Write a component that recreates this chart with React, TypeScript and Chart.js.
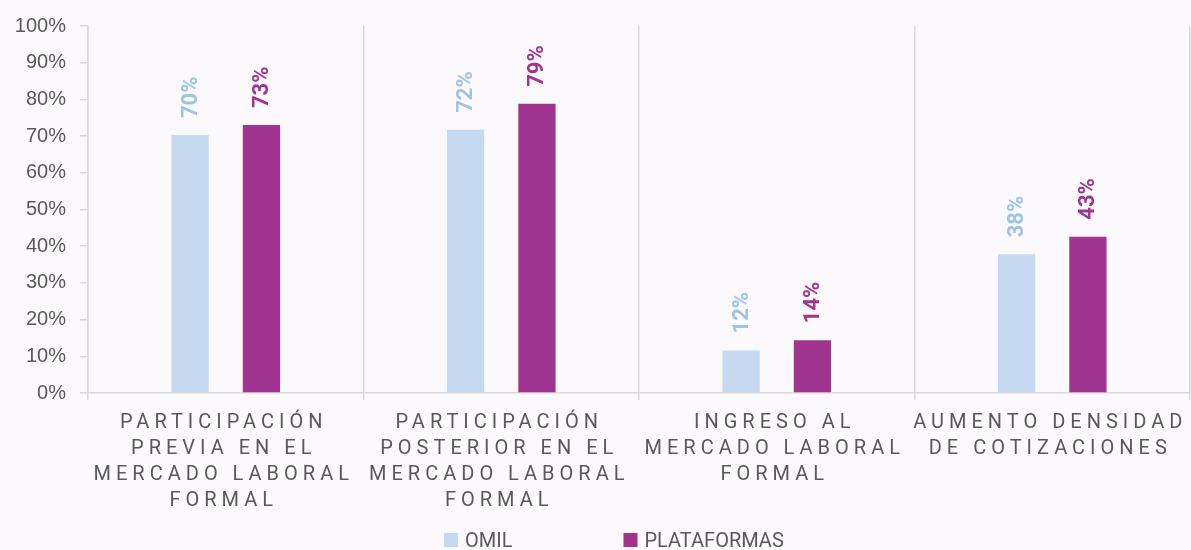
import React, { useEffect, useRef } from 'react';
import { Chart, registerables } from 'chart.js';

Chart.register(...registerables);

// ---- Data ----
const categories: string[][] = [
  ['PARTICIPACIÓN', 'PREVIA EN EL', 'MERCADO LABORAL', 'FORMAL'],
  ['PARTICIPACIÓN', 'POSTERIOR EN EL', 'MERCADO LABORAL', 'FORMAL'],
  ['INGRESO AL', 'MERCADO LABORAL', 'FORMAL'],
  ['AUMENTO DENSIDAD', 'DE COTIZACIONES'],
];
const seriesNames = ['OMIL', 'PLATAFORMAS'];
const omilValues = [70.3, 71.7, 11.6, 37.8];
const plataformasValues = [73.0, 78.8, 14.4, 42.6];
const yMin = 0;
const yMax = 100;
const yStep = 10;

// ---- Styles ----
const BG = '#FBF9FC';
const TEXT = '#595959';
const GRID = '#D9D9D9';
const barColors = ['#C5D9F1', '#A0348F'];
const labelColors = ['#9DC3E6', '#A0348F'];
const FONT = 'Roboto, "Liberation Sans", sans-serif';
const TICK_FONT = '"Liberation Sans", Arial, sans-serif';

const customPlugin = {
  id: 'customDraw',
  afterDatasetsDraw(chart: any) {
    const ctx = chart.ctx as CanvasRenderingContext2D;
    chart.data.datasets.forEach((ds: any, di: number) => {
      const meta = chart.getDatasetMeta(di);
      meta.data.forEach((bar: any, i: number) => {
        const v = ds.data[i] as number;
        ctx.save();
        ctx.translate(bar.x, bar.y - 17);
        ctx.rotate(-Math.PI / 2);
        ctx.font = `bold 22px ${FONT}`;
        ctx.fillStyle = labelColors[di];
        ctx.textAlign = 'left';
        ctx.textBaseline = 'middle';
        ctx.fillText(`${Math.round(v)}%`, 0, 1);
        ctx.restore();
      });
    });
  },
  afterDraw(chart: any) {
    const ctx = chart.ctx as CanvasRenderingContext2D;
    const xScale = chart.scales.x;
    // Category labels with letter spacing
    ctx.save();
    ctx.font = `20px ${FONT}`;
    (ctx as any).letterSpacing = '5px';
    ctx.fillStyle = TEXT;
    ctx.textAlign = 'center';
    ctx.textBaseline = 'alphabetic';
    const firstBaseline = chart.chartArea.bottom + 35;
    const pitch = 26;
    (chart.data.labels as string[][]).forEach((lines, i) => {
      const cx = xScale.getPixelForValue(i) - 2;
      lines.forEach((line, li) => {
        ctx.fillText(line, cx, firstBaseline + li * pitch);
      });
    });
    ctx.restore();

    // Legend
    ctx.save();
    ctx.font = `20px ${FONT}`;
    ctx.textBaseline = 'alphabetic';
    ctx.textAlign = 'left';
    const box = 14;
    const baseline = chart.height - 3;
    const center = chart.width / 2;
    const starts = [center - 151.5, center + 28];
    chart.data.datasets.forEach((ds: any, di: number) => {
      const x0 = starts[di];
      ctx.fillStyle = barColors[di];
      ctx.fillRect(x0, baseline - box, box, box);
      ctx.fillStyle = TEXT;
      ctx.fillText(ds.label, x0 + box + 7, baseline);
    });
    ctx.restore();
  },
};

export default function App() {
  const canvasRef = useRef<HTMLCanvasElement | null>(null);

  useEffect(() => {
    const canvas = canvasRef.current;
    if (!canvas) return;
    const chart = new Chart(canvas, {
      type: 'bar',
      data: {
        labels: categories as any,
        datasets: [
          {
            label: seriesNames[0],
            data: omilValues,
            backgroundColor: barColors[0],
            barPercentage: 0.522,
            categoryPercentage: 0.518,
          },
          {
            label: seriesNames[1],
            data: plataformasValues,
            backgroundColor: barColors[1],
            barPercentage: 0.522,
            categoryPercentage: 0.518,
          },
        ],
      },
      options: {
        animation: false,
        responsive: true,
        maintainAspectRatio: false,
        layout: { padding: { top: 22, right: 1, bottom: 0, left: 0 } },
        plugins: {
          legend: { display: false },
          tooltip: { enabled: false },
        },
        scales: {
          x: {
            offset: true,
            grid: {
              display: true,
              offset: true,
              color: GRID,
              lineWidth: 1.5,
              tickLength: 7,
              drawOnChartArea: true,
            },
            border: { display: true, color: GRID, width: 1.5 },
            ticks: { display: false },
            afterFit: (scale: any) => {
              scale.height = 157;
            },
          },
          y: {
            min: yMin,
            max: yMax,
            grid: {
              display: true,
              drawOnChartArea: false,
              color: GRID,
              lineWidth: 1.5,
              tickLength: 8,
            },
            border: { display: true, color: GRID, width: 1.5 },
            ticks: {
              stepSize: yStep,
              padding: 14,
              color: TEXT,
              font: { family: TICK_FONT, size: 20 },
              callback: (v: any) => `${v}%`,
            },
            afterFit: (scale: any) => {
              scale.width = 88;
            },
          },
        },
      },
      plugins: [customPlugin],
    });
    return () => chart.destroy();
  }, []);

  return (
    <div
      style={{
        position: 'absolute',
        left: 0,
        top: 0,
        width: 1191,
        height: 550,
        background: BG,
      }}
    >
      <canvas ref={canvasRef} />
    </div>
  );
}
